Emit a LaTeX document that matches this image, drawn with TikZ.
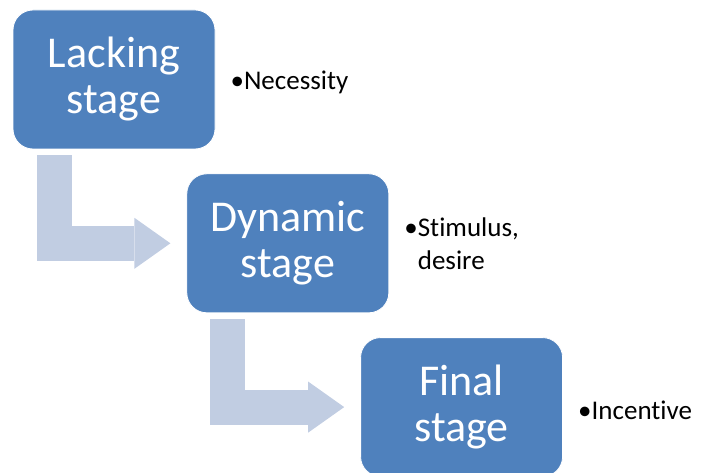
\documentclass[tikz,border=0pt]{standalone}
\usepackage{fontspec}
\setmainfont[Ligatures=NoCommon]{Carlito}
\usetikzlibrary{arrows.meta,positioning}

\definecolor{stageblue}{RGB}{79,129,189}
\definecolor{flowgray}{RGB}{193,205,226}

\begin{document}
\begin{tikzpicture}[
    x=1pt, y=-1pt,
    stagebox/.style={rectangle, draw=white, line width=0.8pt, fill=stageblue, rounded corners=20pt, minimum width=202pt, minimum height=139pt, align=center, text=white, inner sep=0pt, font=\fontsize{44}{46}\selectfont},
    note/.style={align=left, inner sep=0pt, font=\fontsize{27}{33}\selectfont},
    flow/.style={draw=flowgray, line width=35pt, line join=miter, -{Triangle[length=36pt, width=51pt, line width=0pt, fill=flowgray]}},
    node distance=24pt and -29pt
]
\useasboundingbox (0,0) rectangle (701,473);

% stages placed diagonally, each one below and right of the previous
\node[stagebox] (lack) at (114,79.5) {Lacking\\stage};
\node[stagebox, below right=of lack] (dyn) {Dynamic\\stage};
\node[stagebox, below right=of dyn] (fin) {Final\\stage};

% bent arrows between the stages
\draw[flow] ([xshift=41.5pt, yshift=-6pt]lack.south west) |- ([xshift=-16pt]dyn.west);
\draw[flow] ([xshift=41.5pt, yshift=-6pt]dyn.south west) |- ([xshift=-16pt]fin.west);

% notes beside the stages
\node[note, right=15pt of lack, yshift=-3pt] (lacknote) {•Necessity};
\node[note, right=15pt of dyn] (dynnote) {•Stimulus,\\\hphantom{•}desire};
\node[note, right=15pt of fin, yshift=-3pt] (finnote) {•Incentive};
\end{tikzpicture}
\end{document}
